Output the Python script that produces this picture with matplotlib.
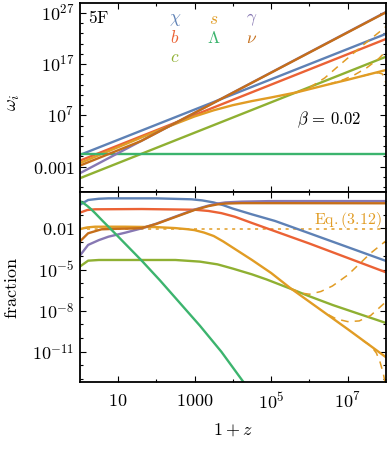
import numpy as np
from matplotlib import pyplot as plt
from matplotlib.ticker import FixedLocator, FixedFormatter, NullFormatter

plt.rcParams['mathtext.fontset'] = 'cm'
plt.rcParams['font.family'] = ['DejaVu Serif']

# colours (Mathematica-like palette)
C_chi = '#5e81b5'
C_b = '#eb6235'
C_c = '#8fb032'
C_s = '#e19c24'
C_L = '#3cb46e'
C_g = '#8778b3'
C_nu = '#c56e1a'

# everything is log10(1+z), log10(value)
# ---- top panel: omega_i ----
top_chi_x = [0, 8]
top_chi_y = [-0.72, 22.9]
top_b_x = [0, 8]
top_b_y = [-1.83, 21.9]
top_c_x = [0, 8]
top_c_y = [-5.26, 18.44]
top_g_x = [0, 8]
top_g_y = [-4.29, 27.16]
top_nu_x = [0, 1.6, 8]
top_nu_y = [-2.8, 2.0, 27.1]
top_L_x = [0, 8]
top_L_y = [-0.52, -0.52]
top_s_x = [0, 2.0, 2.5, 3.0, 3.5, 4.0, 4.5, 5.0, 5.67, 6.5, 7.0, 8.0]
top_s_y = [-2.3, 3.9, 5.35, 6.8, 8.0, 9.0, 9.8, 10.5, 11.5, 13.05, 13.95, 15.85]
top_sd1_x = [5.67, 6.0, 6.4, 6.8, 7.4, 8.0]
top_sd1_y = [11.5, 12.4, 14.3, 16.9, 20.7, 24.3]
top_sd2_x = [6.5, 6.9, 7.2, 7.5, 7.8, 8.0]
top_sd2_y = [13.05, 14.0, 15.0, 16.3, 18.0, 19.5]
top_sd3_x = [7.4, 7.6, 7.8, 7.9, 7.96, 8.0]
top_sd3_y = [14.7, 15.1, 15.3, 15.1, 14.4, 13.2]

# ---- bottom panel: fractions ----
bot_chi_x = [0, 0.22, 0.5, 0.75, 2.0, 2.92, 3.2, 3.5, 3.75, 4.0, 4.5, 5.1, 5.75, 8.0]
bot_chi_y = [-0.28, 0.08, 0.17, 0.2, 0.2, 0.13, 0.05, -0.1, -0.3, -0.55, -0.97, -1.45, -2.1, -4.37]
bot_b_x = [0, 0.2, 0.4, 1.62, 3.0, 3.36, 3.7, 4.05, 4.5, 5.1, 6.0, 8.0]
bot_b_y = [-0.85, -0.65, -0.6, -0.58, -0.63, -0.72, -0.88, -1.14, -1.6, -2.2, -3.1, -5.2]
bot_s_x = [0, 0.1, 0.2, 0.4, 1.18, 2.0, 2.49, 2.8, 3.0, 3.25, 3.5, 3.75, 4.0, 4.25, 4.5, 5.0,
           5.5, 6.0, 7.0, 8.0]
bot_s_y = [-2.06, -1.98, -1.92, -1.87, -1.87, -1.9, -1.97, -2.05, -2.12, -2.3, -2.55, -2.95, -3.4,
           -3.85, -4.3, -5.25, -6.35, -7.35, -9.35, -11.4]
bot_c_x = [0, 0.22, 0.5, 2.5, 3.14, 3.6, 4.0, 4.5, 4.88, 5.49, 6.0, 6.62, 8.0]
bot_c_y = [-4.79, -4.35, -4.3, -4.3, -4.42, -4.62, -4.93, -5.35, -5.72, -6.38, -6.95, -7.6, -8.9]
bot_L_x = [0, 0.1, 0.2, 0.3, 0.4, 0.6, 0.92, 1.62, 2.1, 3.14, 3.7, 4.3]
bot_L_y = [0.0, -0.15, -0.36, -0.6, -0.87, -1.45, -2.35, -4.35, -5.8, -9.1, -11.0, -13.3]
bot_g_x = [0, 0.22, 0.5, 0.75, 1.2, 1.62, 2.0, 2.49, 3.0, 3.36, 3.6, 3.8, 4.23, 5.0, 8.0]
bot_g_y = [-4.0, -3.2, -2.85, -2.6, -2.3, -1.99, -1.65, -1.14, -0.62, -0.33, -0.18, -0.1, -0.04, 0.0, 0.0]
bot_nu_x = [0, 0.22, 0.57, 1.0, 1.4, 1.62, 2.0, 2.49, 3.0, 3.36, 3.6, 3.8, 4.23, 8.0]
bot_nu_y = [-2.96, -2.35, -2.06, -2.02, -2.0, -1.97, -1.67, -1.17, -0.65, -0.37, -0.24, -0.18, -0.15, -0.16]
bot_eq_x = [0.2, 8.0]
bot_eq_y = [-2.06, -2.06]
bot_sd1_x = [5.5, 5.8, 6.0, 6.3, 6.6, 7.0, 7.3, 7.6, 8.0]
bot_sd1_y = [-6.37, -6.72, -6.8, -6.6, -6.2, -5.4, -4.6, -3.8, -2.9]
bot_sd2_x = [6.5, 6.7, 7.0, 7.3, 7.6, 8.0]
bot_sd2_y = [-8.3, -8.6, -8.8, -8.75, -8.35, -7.35]
bot_sd3_x = [7.4, 7.6, 7.75, 7.85, 7.93, 7.98]
bot_sd3_y = [-10.2, -10.55, -11.1, -11.8, -12.6, -13.3]

legend_labels = [r'$\chi$', r'$s$', r'$\gamma$', r'$b$', r'$\Lambda$', r'$\nu$', r'$c$']
legend_colors = [C_chi, C_s, C_g, C_b, C_L, C_nu, C_c]


def p(v):
    return 10.0 ** np.array(v, dtype=float)


W, H = 389, 450
fig = plt.figure(figsize=(W / 100, H / 100), dpi=100)
x0, x1 = 79.7, 386.0
ax1 = fig.add_axes([x0 / W, 1 - 191.5 / H, (x1 - x0) / W, (191.5 - 2.7) / H])
ax2 = fig.add_axes([x0 / W, 1 - 382.3 / H, (x1 - x0) / W, (382.3 - 191.5) / H])

lw = 1.7
dash = (0, (5, 4))
# top
ax1.plot(p(top_chi_x), p(top_chi_y), c=C_chi, lw=lw)
ax1.plot(p(top_b_x), p(top_b_y), c=C_b, lw=lw)
ax1.plot(p(top_c_x), p(top_c_y), c=C_c, lw=lw)
ax1.plot(p(top_s_x), p(top_s_y), c=C_s, lw=lw)
ax1.plot(p(top_sd1_x), p(top_sd1_y), c=C_s, lw=1.1, ls=dash)
ax1.plot(p(top_sd2_x), p(top_sd2_y), c=C_s, lw=1.1, ls=dash)
ax1.plot(p(top_sd3_x), p(top_sd3_y), c=C_s, lw=1.1, ls=dash)
ax1.plot(p(top_L_x), p(top_L_y), c=C_L, lw=lw)
ax1.plot(p(top_g_x), p(top_g_y), c=C_g, lw=lw)
ax1.plot(p(top_nu_x), p(top_nu_y), c=C_nu, lw=lw)

# bottom
ax2.plot(p(bot_eq_x), p(bot_eq_y), c=C_s, lw=1.1, ls=(0, (2, 3)))
ax2.plot(p(bot_chi_x), p(bot_chi_y), c=C_chi, lw=lw)
ax2.plot(p(bot_b_x), p(bot_b_y), c=C_b, lw=lw)
ax2.plot(p(bot_c_x), p(bot_c_y), c=C_c, lw=lw)
ax2.plot(p(bot_s_x), p(bot_s_y), c=C_s, lw=lw)
ax2.plot(p(bot_sd1_x), p(bot_sd1_y), c=C_s, lw=1.1, ls=dash)
ax2.plot(p(bot_sd2_x), p(bot_sd2_y), c=C_s, lw=1.1, ls=dash)
ax2.plot(p(bot_sd3_x), p(bot_sd3_y), c=C_s, lw=1.1, ls=dash)
ax2.plot(p(bot_g_x), p(bot_g_y), c=C_g, lw=lw)
ax2.plot(p(bot_nu_x), p(bot_nu_y), c=C_nu, lw=lw)
ax2.plot(p(bot_L_x), p(bot_L_y), c=C_L, lw=lw)

fs = 13
for ax in (ax1, ax2):
    ax.set_xscale('log')
    ax.set_yscale('log')
    ax.set_xlim(1, 10 ** 8.0)
    ax.tick_params(which='both', direction='in', top=True, right=True, width=0.8)
    ax.tick_params(which='major', length=4)
    ax.tick_params(which='minor', length=2.5)
    for s in ax.spines.values():
        s.set_linewidth(1.3)
    ax.xaxis.set_major_locator(FixedLocator([10, 1e3, 1e5, 1e7]))
    ax.xaxis.set_minor_locator(FixedLocator([1e2, 1e4, 1e6]))
    ax.xaxis.set_minor_formatter(NullFormatter())
    ax.yaxis.set_minor_formatter(NullFormatter())

ax1.set_ylim(10 ** -7.83, 10 ** 28.97)
ax1.yaxis.set_major_locator(FixedLocator([1e-3, 1e7, 1e17, 1e27]))
ax1.yaxis.set_major_formatter(FixedFormatter([r'$0.001$', r'$10^{7}$', r'$10^{17}$', r'$10^{27}$']))
ax1.yaxis.set_minor_locator(FixedLocator(10.0 ** np.arange(-7, 29, 2)))
ax1.xaxis.set_major_formatter(NullFormatter())

ax2.set_ylim(10 ** -13.23, 10 ** 0.70)
ax2.yaxis.set_major_locator(FixedLocator([1e-2, 1e-5, 1e-8, 1e-11]))
ax2.yaxis.set_major_formatter(FixedFormatter([r'$0.01$', r'$10^{-5}$', r'$10^{-8}$', r'$10^{-11}$']))
ax2.yaxis.set_minor_locator(FixedLocator(10.0 ** np.arange(-13, 1, 1)))
ax2.xaxis.set_major_formatter(FixedFormatter([r'$10$', r'$1000$', r'$10^{5}$', r'$10^{7}$']))

for ax in (ax1, ax2):
    for lab in ax.get_xticklabels() + ax.get_yticklabels():
        lab.set_fontsize(fs)
    ax.tick_params(axis='x', pad=7)
    ax.tick_params(axis='y', pad=4)

fig.text(13 / W, 1 - 103 / H, r'$\omega_i$', fontsize=fs, ha='center', va='center', rotation=90)
fig.text(11.7 / W, 1 - 288 / H, r'$\mathrm{fraction}$', fontsize=fs, ha='center', va='center', rotation=90)
fig.text(233 / W, 1 - 430 / H, r'$1+z$', fontsize=fs, ha='center', va='center')

fig.text(88 / W, 1 - 18.5 / H, r'$\mathrm{5F}$', fontsize=12.5, ha='left', va='center')
fig.text(329 / W, 1 - 120 / H, r'$\beta\,=\,0.02$', fontsize=12, ha='center', va='center')
fig.text(382 / W, 1 - 219.5 / H, r'$\mathrm{Eq.(3.12)}$', fontsize=11.5, ha='right', va='center', color=C_s)

leg_x = [175, 213.3, 251.7, 175, 213.3, 251.7, 175]
leg_y = [19.5, 19.5, 19.5, 38.3, 38.3, 38.3, 57]
for lab, col, lx, ly in zip(legend_labels, legend_colors, leg_x, leg_y):
    fig.text(lx / W, 1 - ly / H, lab, fontsize=12.5, ha='center', va='center', color=col)

fig.savefig('out.png', dpi=100)
